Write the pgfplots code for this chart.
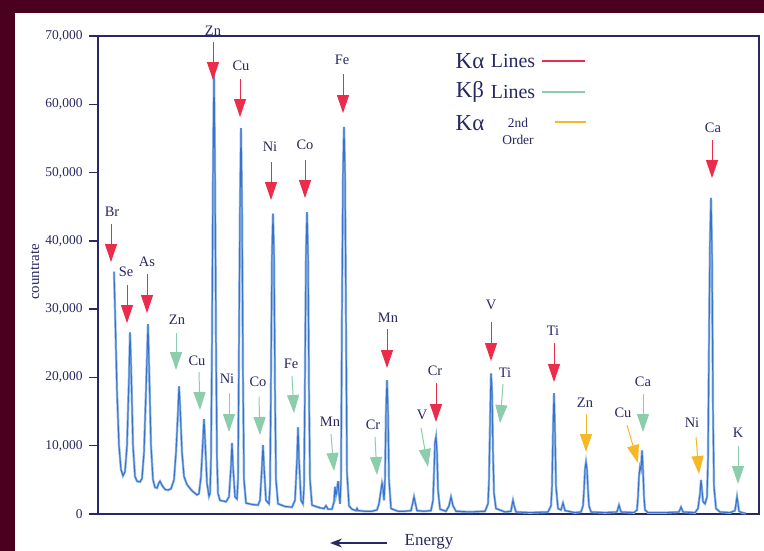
\documentclass[border=0pt]{standalone}
\usepackage{fontspec}
\setmainfont{Liberation Serif}
\usepackage{pgfplots}
\usepackage{pgfplotstable}
\pgfplotsset{compat=1.18}
\usetikzlibrary{arrows.meta}
\definecolor{maroonbg}{RGB}{75,0,32}
\definecolor{navy}{RGB}{40,40,100}
\definecolor{specblue}{RGB}{55,115,205}
\definecolor{speclight}{RGB}{150,185,230}
\definecolor{kared}{RGB}{235,45,75}
\definecolor{kbteal}{RGB}{140,205,172}
\definecolor{kyel}{RGB}{245,185,40}
\newcommand{\PY}[1]{{(514-#1)*0.146429}}
\newcommand{\arr}[5]{\draw[#1, line width=1bp, -{Triangle[width=12bp,length=18bp]}] (axis cs:#2,\PY{#3}) -- (axis cs:#4,\PY{#5});}
\newcommand{\lbl}[3]{\node[text=navy, font=\fontsize{14.5}{14.5}\selectfont, inner sep=0pt] at (axis cs:#1,\PY{#2}) {#3};}

% spectrum: x = channel (energy decreasing to the right), y = countrate in thousands
\pgfplotstableread{
x y
114 35.5
115 30
117 18
119 10
121 6.5
123 5.6
125 6.2
127 10
129 20
130 26.6
131 22
133 10
135 5.5
137 4.8
140 4.7
142 5.2
144 9
146 18
148 27.8
149 22
151 10
153 5
155 3.9
157 3.8
159 4.6
160 4.8
162 4.2
165 3.6
168 3.5
171 3.7
174 5
176 9
178 15
179 18.7
180 16
182 9
184 5.5
187 4.3
192 3.4
197 2.8
199 3
201 5.5
203 11
204 13.9
205 11
207 4.5
209 2.6
210 3
211 8
212 25
213 50
214 64.7
215 50
216 25
217 8
218 3
220 2
226 1.8
229 2.5
231 7
232 10.4
233 7
235 2.5
237 2.2
238 5
239 25
240 45
241 56.5
242 45
243 20
244 5
246 1.6
252 1.4
258 1.3
260 2
262 7
263 10.1
264 7
266 2
269 1.5
270 4
271 20
272 38
273 44
274 38
275 18
276 5
278 1.5
285 1.1
292 1
295 2
297 8
298 12.7
299 8
301 2
303 1.5
304 4
305 20
306 38
307 44.2
308 38
309 18
310 5
312 1.3
320 0.9
324 0.8
326 1.2
328 0.7
332 0.7
334 1.8
335 4
336 2.8
337 3.5
338 4.8
339 3
340 1.5
341 5
342 30
343 50
344 56.7
345 50
346 28
347 6
349 1.2
352 0.7
356 0.5
357 0.8
358 0.5
365 0.4
372 0.4
377 0.6
379 1.5
381 3.5
382 4.5
383 3.8
384 2
385 5
386 15
387 19.6
388 15
389 5
391 0.8
398 0.4
405 0.4
411 0.5
413 1.8
414 2.5
415 1.8
417 0.5
424 0.4
431 0.5
433 2
434 6
435 10.5
436 11.3
437 9
438 3.5
440 0.7
446 0.4
449 1.2
451 2.5
453 1.2
456 0.4
470 0.3
485 0.4
488 1.5
489 5
490 13
491 20.6
492 18
493 9
494 3
496 0.8
505 0.3
511 0.4
512 1.3
513 2
514 1.3
516 0.3
530 0.2
548 0.3
551 1.2
552 4
553 12
554 17.7
555 12
556 4
558 0.8
561 0.6
563 1.6
565 0.5
575 0.2
581 0.3
583 1.2
584 3.5
585 6.5
586 7.6
587 6.5
588 3.5
589 1.2
591 0.3
605 0.2
617 0.3
619 1.3
621 0.3
634 0.2
637 0.6
638 2.5
639 5.5
640 6.9
641 6.5
642 9.3
643 6.5
644 2.5
645 0.6
648 0.2
665 0.2
679 0.3
681 1
683 0.3
695 0.2
698 0.8
700 3
701 5
702 3.5
703 1.8
705 1.5
707 2.5
708 8
709 25
710 40
711 46.3
712 38
713 15
714 4
716 0.8
720 0.3
730 0.2
735 0.5
736 1.5
737 2.5
738 1.5
739 0.4
742 0.2
746 0.1
}\spectrum

\begin{document}
\begin{tikzpicture}
\useasboundingbox (0,0) rectangle (764bp,551bp);
\fill[maroonbg] (0,0) rectangle (764bp,551bp);
\fill[white] (15bp,0) rectangle (764bp,538bp);
\begin{axis}[
  at={(98bp,37bp)}, anchor=south west,
  scale only axis, width=661bp, height=478bp,
  xmin=98, xmax=759, ymin=0, ymax=70,
  xtick=\empty,
  ytick={0,10,20,30,40,50,60,70},
  yticklabels={0,{10,000},{20,000},{30,000},{40,000},{50,000},{60,000},{70,000}},
  ytick pos=left, tick align=outside, major tick length=9bp,
  axis line style={navy, line width=1.3bp},
  every tick/.style={navy, line width=1.3bp},
  y tick label style={text=navy, font=\fontsize{13.5}{13.5}\selectfont, xshift=-3bp},
  clip=false,
]
\addplot[speclight, line width=2.4bp] table[x=x,y=y] {\spectrum};
\addplot[specblue, line width=1bp] table[x=x,y=y] {\spectrum};

% K-alpha (red)
\arr{kared}{111}{224}{111}{262} \lbl{112}{212}{Br}
\arr{kared}{127}{285}{127}{323} \lbl{126}{272}{Se}
\arr{kared}{147}{274}{147}{313} \lbl{147}{262}{As}
\arr{kared}{213}{42}{213}{80}   \lbl{213}{31}{Zn}
\arr{kared}{240}{79}{240}{117}  \lbl{241}{66}{Cu}
\arr{kared}{271}{162}{271}{200} \lbl{270}{147}{Ni}
\arr{kared}{305}{160}{305}{198} \lbl{305}{145}{Co}
\arr{kared}{343}{74}{343}{113}  \lbl{342}{60}{Fe}
\arr{kared}{387}{329}{387}{368} \lbl{388}{318}{Mn}
\arr{kared}{436}{383}{436}{422} \lbl{435}{371}{Cr}
\arr{kared}{491}{322}{491}{361} \lbl{491}{305}{V}
\arr{kared}{554}{343}{554}{382} \lbl{553}{331}{Ti}
\arr{kared}{712}{140}{712}{178} \lbl{713}{128}{Ca}

% K-beta (teal)
\arr{kbteal}{176}{333}{176}{370} \lbl{177}{320}{Zn}
\arr{kbteal}{199}{372}{200}{410} \lbl{197}{361}{Cu}
\arr{kbteal}{229}{393}{229}{432} \lbl{227}{379}{Ni}
\arr{kbteal}{259}{397}{260}{435} \lbl{258}{382}{Co}
\arr{kbteal}{292}{376}{294}{413} \lbl{291}{364}{Fe}
\arr{kbteal}{331}{434}{334}{471} \lbl{330}{422}{Mn}
\arr{kbteal}{375}{437}{377}{475} \lbl{373}{425}{Cr}
\arr{kbteal}{421}{428}{428}{467} \lbl{422}{415}{V}
\arr{kbteal}{503}{384}{500}{423} \lbl{505}{373}{Ti}
\arr{kbteal}{643}{394}{643}{432} \lbl{643}{382}{Ca}
\arr{kbteal}{738}{446}{738}{484} \lbl{738}{433}{K}

% K-alpha second order (yellow)
\arr{kyel}{586}{414}{586}{452} \lbl{585}{403}{Zn}
\arr{kyel}{627}{425}{638}{463} \lbl{623}{413}{Cu}
\arr{kyel}{696}{437}{699}{474} \lbl{692}{423}{Ni}
\end{axis}

% y label
\node[rotate=90, text=navy, font=\fontsize{15}{15}\selectfont] at (35bp,279bp) {countrate};

% Energy arrow
\draw[navy, line width=1.5bp, -{Stealth[length=12bp,width=9bp]}] (387bp,8bp) -- (330bp,8bp);
\node[text=navy, font=\fontsize{17}{17}\selectfont] at (429bp,9bp) {Energy};

% key
\node[text=navy, font=\fontsize{23}{23}\selectfont] at (470bp,490bp) {Kα};
\node[text=navy, font=\fontsize{20}{20}\selectfont] at (513bp,490bp) {Lines};
\draw[kared, line width=1.5bp] (542bp,490bp) -- (585bp,490bp);
\node[text=navy, font=\fontsize{23}{23}\selectfont] at (470bp,459bp) {Kβ};
\node[text=navy, font=\fontsize{20}{20}\selectfont] at (513bp,459bp) {Lines};
\draw[kbteal, line width=1.5bp] (542bp,459bp) -- (585bp,459bp);
\node[text=navy, font=\fontsize{23}{23}\selectfont] at (470bp,428bp) {Kα};
\node[text=navy, font=\fontsize{13.5}{13.5}\selectfont] at (518bp,428bp) {2nd};
\node[text=navy, font=\fontsize{13.5}{13.5}\selectfont] at (518bp,411bp) {Order};
\draw[kyel, line width=1.5bp] (555bp,429bp) -- (586bp,429bp);
\end{tikzpicture}
\end{document}
